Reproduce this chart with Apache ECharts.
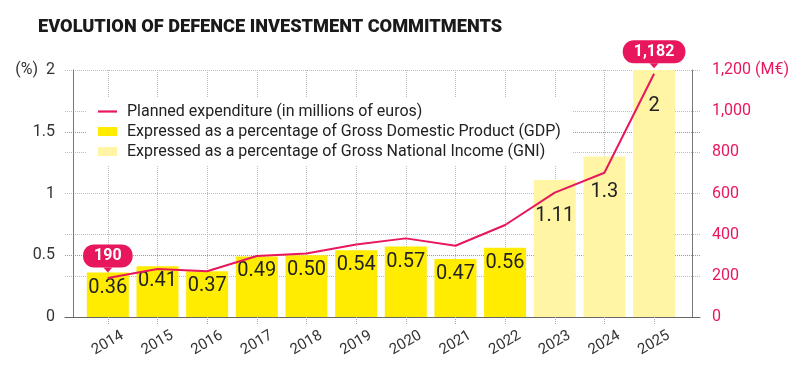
<!DOCTYPE html>
<html>
<head>
<meta charset="utf-8">
<script src="https://cdn.jsdelivr.net/npm/echarts@6/dist/echarts.min.js"></script>
<style>html,body{margin:0;padding:0;background:#fff;}#c{width:792px;height:378px;}</style>
</head>
<body>
<div id="c"></div>
<script>
const years = ['2014','2015','2016','2017','2018','2019','2020','2021','2022','2023','2024','2025'];
const gdpShare = [0.36, 0.41, 0.37, 0.49, 0.50, 0.54, 0.57, 0.47, 0.56, null, null, null];
const gniShare = [null, null, null, null, null, null, null, null, null, 1.11, 1.3, 2];
const spending = [190, 233, 222, 296, 309, 352, 382, 346, 447, 604, 701, 1182];
const pctTicks = [0, 0.5, 1, 1.5, 2];
const eurTicks = [0, 200, 400, 600, 800, 1000, 1200];

const PINK = '#E8175D';
const FONT = 'Roboto';
const names = {
  line: 'Planned expenditure (in millions of euros)',
  gdp: 'Expressed as a percentage of Gross Domestic Product (GDP)',
  gni: 'Expressed as a percentage of Gross National Income (GNI)'
};

const calloutIdx = [0, spending.length - 1];

const chart = echarts.init(document.getElementById('c'));
chart.setOption({
  animation: false,
  backgroundColor: '#fff',
  title: {
    text: 'EVOLUTION OF DEFENCE INVESTMENT COMMITMENTS',
    left: 33, top: 13,
    textStyle: { fontFamily: FONT, fontWeight: 900, fontSize: 18.2, color: '#1a1a1a' }
  },
  legend: {
    orient: 'vertical', left: 86, top: 97,
    backgroundColor: '#fff', padding: [6, 12, 6, 12],
    itemWidth: 19, itemHeight: 9, itemGap: 3,
    textStyle: { fontFamily: FONT, fontSize: 16, color: '#222', lineHeight: 17, padding: [0, 0, 0, 5] },
    data: [
      { name: names.line, icon: 'path://M0,0 L19,0 L19,2.2 L0,2.2 Z', itemStyle: { color: PINK } },
      { name: names.gdp, icon: 'rect' },
      { name: names.gni, icon: 'rect' }
    ]
  },
  grid: [
    { left: 83, right: 113, top: 70, bottom: 61 },
    { left: 65, right: 92, top: 70, bottom: 61 }
  ],
  xAxis: [
    {
      type: 'category', data: years, gridIndex: 0,
      axisLine: { show: false },
      axisTick: { show: true, alignWithLabel: true, length: 8, lineStyle: { type: 'dotted', color: '#aaa' } },
      splitLine: { show: true, alignWithLabel: true, lineStyle: { type: 'dotted', color: '#bbb' } },
      axisLabel: { rotate: 30, align: 'center', verticalAlign: 'middle', margin: 26, fontFamily: FONT, fontSize: 15, color: '#333', interval: 0 }
    },
    {
      type: 'value', gridIndex: 1, min: 0, max: 1,
      axisLine: { show: true, lineStyle: { color: '#666' } },
      axisTick: { show: false }, axisLabel: { show: false }, splitLine: { show: false }
    }
  ],
  yAxis: [
    {
      type: 'value', gridIndex: 0, min: 0, max: 2, interval: 0.5, offset: 10,
      axisLine: { show: true, lineStyle: { color: '#777' } },
      axisTick: { show: false }, splitLine: { show: false },
      axisLabel: { margin: 18, fontFamily: FONT, fontSize: 16, color: '#333',
        formatter: v => v === pctTicks[pctTicks.length - 1] ? '(%)  ' + v : String(v) }
    },
    {
      type: 'value', gridIndex: 0, position: 'right', min: 0, max: 1200, interval: 200, offset: 13,
      axisLine: { show: true, lineStyle: { color: '#777' } },
      axisTick: { show: false }, splitLine: { show: false },
      axisLabel: { margin: 20, fontFamily: FONT, fontSize: 16, color: PINK,
        formatter: v => v === eurTicks[eurTicks.length - 1] ? v.toLocaleString('en-US') + ' (M€)' : v.toLocaleString('en-US') }
    },
    {
      type: 'value', gridIndex: 1, min: 0, max: 2, interval: 0.5,
      axisLine: { show: false }, axisTick: { show: false }, axisLabel: { show: false },
      splitLine: { show: true, lineStyle: { type: 'dotted', color: '#999' } }
    },
    {
      type: 'value', gridIndex: 1, position: 'right', min: 0, max: 1200, interval: 200,
      axisLine: { show: false }, axisTick: { show: false }, axisLabel: { show: false },
      splitLine: { show: true, lineStyle: { type: 'dotted', color: '#F0A3BC' } }
    }
  ],
  series: [
    {
      name: names.gdp, type: 'bar', xAxisIndex: 0, yAxisIndex: 0,
      data: gdpShare, barWidth: 42, barGap: '-100%',
      itemStyle: { color: '#FFEC00' },
      label: { show: true, position: 'insideTop', distance: 5, fontFamily: FONT, fontSize: 20, color: '#222',
        formatter: p => p.value.toFixed(2) }
    },
    {
      name: names.gni, type: 'bar', xAxisIndex: 0, yAxisIndex: 0,
      data: gniShare, barWidth: 42, barGap: '-100%',
      itemStyle: { color: '#FFF5A5' },
      label: { show: true, position: 'insideTop', distance: 26, fontFamily: FONT, fontSize: 20, color: '#222' }
    },
    {
      name: names.line, type: 'line', xAxisIndex: 0, yAxisIndex: 1,
      data: spending, symbol: 'none', z: 5,
      lineStyle: { color: PINK, width: 2 }, itemStyle: { color: PINK },
      markPoint: {
        symbol: 'path://M0,0 L10,0 L5,6 Z', symbolSize: [9, 5], symbolOffset: [0, -8],
        itemStyle: { color: PINK },
        label: {
          show: true, position: 'top', distance: 0,
          formatter: p => p.value.toLocaleString('en-US'),
          backgroundColor: PINK, borderRadius: 11, padding: [4, 11, 3, 11],
          color: '#fff', fontWeight: 'bold', fontSize: 16, fontFamily: FONT
        },
        data: calloutIdx.map(i => ({ coord: [years[i], spending[i]], value: spending[i] }))
      }
    }
  ]
});
</script>
</body>
</html>
